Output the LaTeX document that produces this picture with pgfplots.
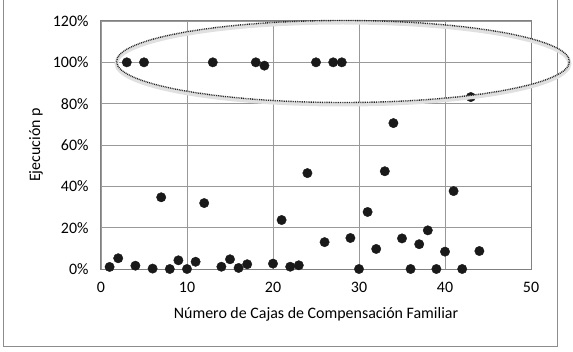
\documentclass[border=0pt]{standalone}
\usepackage{fontspec}
\setmainfont{Carlito}
\usepackage{pgfplots}
\pgfplotsset{compat=1.18}
\begin{document}
\begin{tikzpicture}
\useasboundingbox (-101bp,-83bp) rectangle (472bp,269bp);
\draw[black!45, line width=1bp] (-97bp,272bp) -- (-97bp,-77bp) -- (456bp,-77bp) -- (456bp,272bp);
\begin{axis}[
  scale only axis, width=430bp, height=248bp,
  xmin=0, xmax=50, ymin=0, ymax=120,
  xtick={0,10,...,50}, ytick={0,20,...,120},
  yticklabels={0\%,20\%,40\%,60\%,80\%,100\%,120\%},
  grid=major,
  major grid style={color=black!40, line width=0.8bp},
  axis line style={color=black!50, line width=1bp},
  tick style={draw=none},
  font=\fontsize{16}{18}\selectfont,
  /pgf/number format/assume math mode=true,
  xticklabel style={yshift=-10bp},
  yticklabel style={xshift=-9bp},
  xlabel={Número de Cajas de Compensación Familiar},
  ylabel={Ejecución p},
  xlabel style={at={(axis description cs:0.5,0)}, yshift=-45bp, anchor=center},
  ylabel style={at={(axis description cs:-0.151,0.5)}, anchor=center},
  clip=false,
]
\addplot[only marks, mark=*, mark size=4.7bp, mark options={fill=black!90, draw=black!90}] coordinates {
(1,1) (2,5.2) (4,1.6) (6,0.2) (7,34.7) (8,0) (9,4.2) (10,0) (11,3.5) (12,31.9)
(14,1.1) (15,4.7) (16,0.5) (17,2.3) (20,2.6) (21,23.7) (22,1.1) (23,1.8) (24,46.4)
(26,13) (29,15) (30,0) (31,27.6) (32,9.7) (33,47.3) (34,70.6) (35,14.8) (36,0)
(37,12) (38,18.7) (39,0) (40,8.4) (41,37.7) (42,0) (44,8.7)
(3,100) (5,100) (13,100) (18,100) (19,98.4) (25,100) (27,100) (28,100) (43,83.2)
};
\end{axis}
\draw[black!12, line width=4bp] (242bp,205.5bp) ellipse [x radius=226.5bp, y radius=41bp];
\draw[black!85, line width=1.4bp, dash pattern=on 0.9bp off 0.9bp] (242bp,207.5bp) ellipse [x radius=226.5bp, y radius=41bp];
\end{tikzpicture}
\end{document}
